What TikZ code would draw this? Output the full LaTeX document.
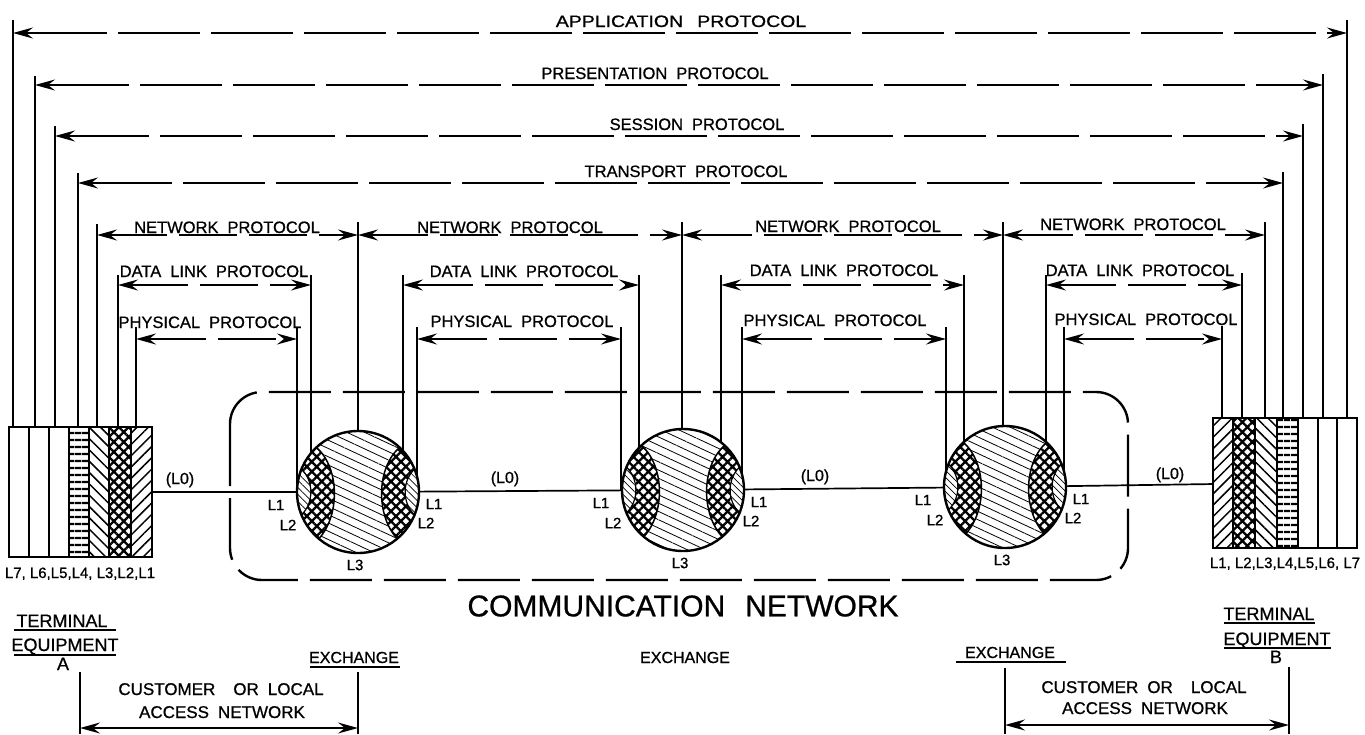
\documentclass[tikz,border=0pt]{standalone}
\usepackage{fontspec}
\setmainfont{Liberation Sans}[FakeBold=0.8]
\usetikzlibrary{arrows.meta,patterns.meta,calc}

\tikzset{
  ln/.style={line width=1.7pt},
  ul/.style={line width=1.3pt},
  proto/.style={line width=1.7pt, dash pattern=on 82pt off 11pt, <->},
  protoS/.style={line width=1.7pt, dash pattern=on 58pt off 12pt, <->},
  lbl/.style={font={\fontsize{16.5}{18}\selectfont\spaceskip=9pt plus 1pt}, inner sep=0pt, anchor=base},
  cl/.style={font=\fontsize{15}{17}\selectfont, inner sep=0pt},
  bl/.style={font={\fontsize{17}{19}\selectfont\spaceskip=9pt plus 1pt}, inner sep=0pt, anchor=base},
  tl/.style={font=\fontsize{18}{20}\selectfont, inner sep=0pt, anchor=base},
  pH/.style={pattern={Lines[angle=0,distance=6.5pt,line width=2.6pt]}},
  pB/.style={pattern={Lines[angle=-45,distance=8pt,line width=1.5pt]}},
  pF/.style={pattern={Lines[angle=45,distance=8pt,line width=1.5pt]}},
  pX/.style={pattern={Hatch[angle=45,distance=7pt,line width=2.3pt]}},
  term/.style={draw, line width=2.2pt, rectangle, inner sep=0pt, minimum height=130pt},
  exch/.style={circle, draw, line width=2.4pt, fill=white, minimum size=122pt, inner sep=0pt},
  netbox/.style={line width=2.4pt, rounded corners=32pt, dash pattern=on 62pt off 12pt},
}

\newcommand\exchfill{%
  \begin{scope}[shift={(path picture bounding box.center)}, x=1pt, y=1pt]
    \fill[pattern={Lines[angle=-25,distance=7.5pt,line width=0.8pt]}] (-70,-70) rectangle (70,70);
    % left crescent (L2)
    \path[draw, line width=1.5pt, preaction={fill=white}, pX]
      (133:61) arc[start angle=133,end angle=230,radius=61]
      .. controls (-18,-24) and (-18,24) .. (133:61) -- cycle;
    % left lens (L1)
    \path[draw, line width=1.2pt, preaction={fill=white}, pattern={Lines[angle=-45,distance=5pt,line width=0.7pt]}]
      (158:61) arc[start angle=158,end angle=202,radius=61]
      .. controls (-44,-11) and (-44,11) .. (158:61) -- cycle;
    % right crescent (L2)
    \path[draw, line width=1.5pt, preaction={fill=white}, pX]
      (47:61) arc[start angle=47,end angle=-50,radius=61]
      .. controls (18,-24) and (18,24) .. (47:61) -- cycle;
    % right lens (L1)
    \path[draw, line width=1.2pt, preaction={fill=white}, pattern={Lines[angle=-45,distance=5pt,line width=0.7pt]}]
      (22:61) arc[start angle=22,end angle=-22,radius=61]
      .. controls (44,-11) and (44,11) .. (22:61) -- cycle;
  \end{scope}}

\begin{document}
\begin{tikzpicture}[x=1pt,y=-1pt,>={Stealth[length=20pt,width=11pt,inset=7pt]}]
\useasboundingbox (0,0) rectangle (1365,734);

\coordinate (k1) at (358,492);
\coordinate (k2) at (683,490);
\coordinate (k3) at (1005,487);

% communication network (dashed rounded box)
\draw[netbox] (230,392) rectangle (1128,580);

% ---- vertical leads ----
\foreach \x/\y in {13/20,35/76,55/126,78/173,97/224,118/275,136/327}
  \draw[ln] (\x,\y) -- (\x,427);
\foreach \x/\y in {1347/20,1323/74,1303/124,1283/172,1265/222,1242/273,1222/326}
  \draw[ln] (\x,\y) -- (\x,418);
\foreach \x/\y in {297/327,311/275,358/222,403/275,417/327}
  \draw[ln] (\x,\y) -- (\x,492);
\foreach \x/\y in {621/327,639/275,682/222,721/275,742/327}
  \draw[ln] (\x,\y) -- (\x,490);
\foreach \x/\y in {946/327,964/275,1003/222,1046/275,1064/327}
  \draw[ln] (\x,\y) -- (\x,487);

% ---- protocol arrows ----
\draw[proto] (13,33) -- (1347,33);
\draw[proto] (35,85) -- (1323,85);
\draw[proto] (55,136) -- (1303,136);
\draw[proto] (78,183) -- (1283,183);
\draw[protoS] (97,235) -- (358,235);
\draw[protoS] (358,235) -- (682,235);
\draw[protoS] (682,235) -- (1003,235);
\draw[protoS] (1003,235) -- (1265,235);
\draw[protoS] (118,285) -- (311,285);
\draw[protoS] (403,285) -- (639,285);
\draw[protoS] (721,285) -- (964,285);
\draw[protoS] (1046,285) -- (1242,285);
\draw[protoS] (136,339) -- (297,339);
\draw[protoS] (417,339) -- (621,339);
\draw[protoS] (742,339) -- (946,339);
\draw[protoS] (1064,339) -- (1222,339);

\node[lbl] (tapp) at (681,27) {\scalebox{1.18}[1]{APPLICATION\hspace{12pt}PROTOCOL}};
\node[lbl] (tpre) at (655,79) {PRESENTATION PROTOCOL};
\node[lbl] (tses) at (697,130) {SESSION PROTOCOL};
\node[lbl] (ttra) at (686,177) {TRANSPORT PROTOCOL};
\node[lbl] (tn1) at (227,233) {NETWORK PROTOCOL};
\node[lbl] (tn2) at (510,233) {NETWORK PROTOCOL};
\node[lbl] (tn3) at (848,232) {NETWORK PROTOCOL};
\node[lbl] (tn4) at (1133,230) {NETWORK PROTOCOL};
\node[lbl] (td1) at (214,277) {DATA LINK PROTOCOL};
\node[lbl] (td2) at (524,277) {DATA LINK PROTOCOL};
\node[lbl] (td3) at (844,276) {DATA LINK PROTOCOL};
\node[lbl] (td4) at (1140,276) {DATA LINK PROTOCOL};
\node[lbl] (tp1) at (210,328) {PHYSICAL PROTOCOL};
\node[lbl] (tp2) at (522,327) {PHYSICAL PROTOCOL};
\node[lbl] (tp3) at (835,326) {PHYSICAL PROTOCOL};
\node[lbl] (tp4) at (1146,325) {PHYSICAL PROTOCOL};

% ---- terminal equipment A ----
\fill[pH] (69,427) rectangle (89,557);
\fill[pB] (89,427) rectangle (109,557);
\fill[pX] (109,427) rectangle (131,557);
\fill[pF] (131,427) rectangle (152,557);
\foreach \x in {29,49,69,89,109,131} \draw[ln] (\x,427) -- (\x,557);
\node[term, minimum width=143pt] (ta) at (80.5,492) {};
\node[cl, anchor=base] (talab) at (80,578) {L7, L6,L5,L4, L3,L2,L1};

% ---- terminal equipment B ----
\fill[pF] (1213,418) rectangle (1233,548);
\fill[pX] (1233,418) rectangle (1255,548);
\fill[pB] (1255,418) rectangle (1277,548);
\fill[pH] (1277,418) rectangle (1298,548);
\foreach \x in {1233,1255,1277,1298,1318,1337} \draw[ln] (\x,418) -- (\x,548);
\node[term, minimum width=144pt] (tb) at (1285,483) {};
\node[cl, anchor=base] (tblab) at (1285,568) {L1, L2,L3,L4,L5,L6, L7};

% ---- exchanges ----
\node[exch, path picture={\exchfill}] (c1) at (k1) {};
\node[exch, path picture={\exchfill}] (c2) at (k2) {};
\node[exch, path picture={\exchfill}] (c3) at (k3) {};

\foreach \c in {c1,c2,c3} {
  \node[cl] (\c-l1a) at ($(\c)+(-82,13)$) {L1};
  \node[cl] (\c-l2a) at ($(\c)+(-70,33)$) {L2};
  \node[cl] (\c-l1b) at ($(\c)+(76,12)$) {L1};
  \node[cl] (\c-l2b) at ($(\c)+(68,31)$) {L2};
  \node[cl] (\c-l3) at ($(\c)+(-3,73)$) {L3};
}

% ---- (L0) links ----
\draw[ln] (ta) -- (c1);
\draw[ln] (c1) -- (c2);
\draw[ln] (c2) -- (c3);
\draw[ln] (c3) -- (tb);
\node[cl, anchor=base, font=\fontsize{16}{18}\selectfont] (l0a) at (180,484) {(L0)};
\node[cl, anchor=base, font=\fontsize{16}{18}\selectfont] (l0b) at (505,483) {(L0)};
\node[cl, anchor=base, font=\fontsize{16}{18}\selectfont] (l0c) at (815,481) {(L0)};
\node[cl, anchor=base, font=\fontsize{16}{18}\selectfont] (l0d) at (1170,479) {(L0)};

% ---- communication network title ----
\node[inner sep=0pt, font=\fontsize{30}{34}\selectfont] (cn) at (683,606) {COMMUNICATION\hspace{20pt}NETWORK};

% ---- bottom labels ----
\node[tl] (ta1) at (62,627) {TERMINAL};
\node[tl] (ta2) at (65,651) {EQUIPMENT};
\node[tl] (ta3) at (63,670) {A};
\draw[ul] (14,630) -- (116,630);
\draw[ul] (14,655) -- (116,655);

\node[tl] (tb1) at (1269,620) {TERMINAL};
\node[tl] (tb2) at (1277,645) {EQUIPMENT};
\node[tl] (tb3) at (1276,663) {B};
\draw[ul] (1224,623) -- (1315,623);
\draw[ul] (1224,648) -- (1331,648);

\node[bl, font=\fontsize{16}{18}\selectfont] (ex1) at (354,663) {EXCHANGE};
\draw[ul] (310,667) -- (400,667);
\node[bl, font=\fontsize{16}{18}\selectfont] (ex2) at (685,663) {EXCHANGE};
\node[bl, font=\fontsize{16}{18}\selectfont] (ex3) at (1010,658) {EXCHANGE};
\draw[ul] (956,662) -- (1066,662);

% ---- access network brackets ----
\coordinate (la1) at (80,672);
\coordinate (la2) at (358,672);
\coordinate (la3) at (80,734);
\coordinate (la4) at (358,734);
\draw[ln] (la1) -- (la3);
\draw[ln] (la2) -- (la4);
\draw[ln,<->] (80,728) -- (358,728);
\node[bl] (acA1) at (221,695) {CUSTOMER\ \ OR LOCAL};
\node[bl] (acA2) at (222,718) {ACCESS NETWORK};

\coordinate (lb1) at (1005,668);
\coordinate (lb2) at (1289,667);
\coordinate (lb3) at (1005,734);
\coordinate (lb4) at (1289,734);
\draw[ln] (lb1) -- (lb3);
\draw[ln] (lb2) -- (lb4);
\draw[ln,<->] (1005,725) -- (1289,725);
\node[bl] (acB1) at (1144,693) {CUSTOMER OR\ \ LOCAL};
\node[bl] (acB2) at (1145,714) {ACCESS NETWORK};

\end{tikzpicture}
\end{document}
